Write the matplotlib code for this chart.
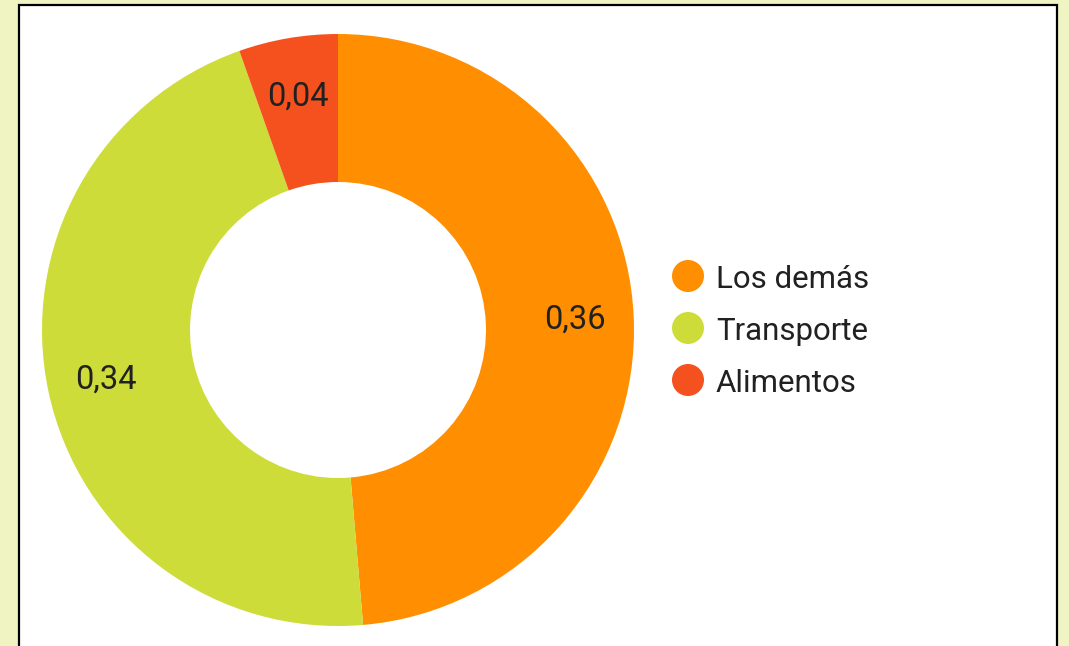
import numpy as np
import matplotlib.pyplot as plt
from matplotlib.patches import Rectangle, Ellipse

# data
categories = ['Los demás', 'Transporte', 'Alimentos']
values = [0.36, 0.34, 0.04]
value_labels = ['0,36', '0,34', '0,04']
colors = ['#FF8F00', '#CDDC39', '#F4511E']

BACKGROUND = '#F0F4C3'
TEXT = '#212121'

plt.rcParams['font.family'] = ['Roboto', 'DejaVu Sans']

W, H = 1069, 646
fig = plt.figure(figsize=(W / 100, H / 100), dpi=100)
fig.patch.set_facecolor(BACKGROUND)

# white panel with black frame (behind everything)
panel = Rectangle((19 / W, -0.05), (1057 - 19) / W, 1.05 - 5 / H,
                  transform=fig.transFigure, facecolor='white',
                  edgecolor='black', linewidth=1.6, zorder=-10)
fig.patches.append(panel)

# donut axes, centred at (338, 330) px
cx, cy, half = 338, 330, 300
ax = fig.add_axes(((cx - half) / W, (H - cy - half) / H, 2 * half / W, 2 * half / H))
ax.set_facecolor('none')
wedges, _ = ax.pie(values, colors=colors, startangle=90, counterclock=False,
                   radius=296 / half,
                   wedgeprops=dict(width=148 / half, linewidth=0))
ax.set_xlim(-1, 1)
ax.set_ylim(-1, 1)
ax.set_aspect('equal')
ax.axis('off')

# value labels in the middle of the ring
for w, lab in zip(wedges, value_labels):
    ang = np.deg2rad((w.theta1 + w.theta2) / 2)
    r = 0.79
    ax.text(r * np.cos(ang), r * np.sin(ang), lab, ha='center', va='center',
            fontsize=23.5, color=TEXT)

# legend
for i, (name, col) in enumerate(zip(categories, colors)):
    y = 276 + 52 * i
    fig.patches.append(Ellipse((688 / W, 1 - y / H), 32 / W, 32 / H,
                               transform=fig.transFigure,
                               facecolor=col, edgecolor='none'))
    fig.text(716 / W, 1 - y / H, name, ha='left', va='center_baseline',
             fontsize=22.5, color=TEXT)

fig.savefig('out.png', dpi=100, facecolor=BACKGROUND)
